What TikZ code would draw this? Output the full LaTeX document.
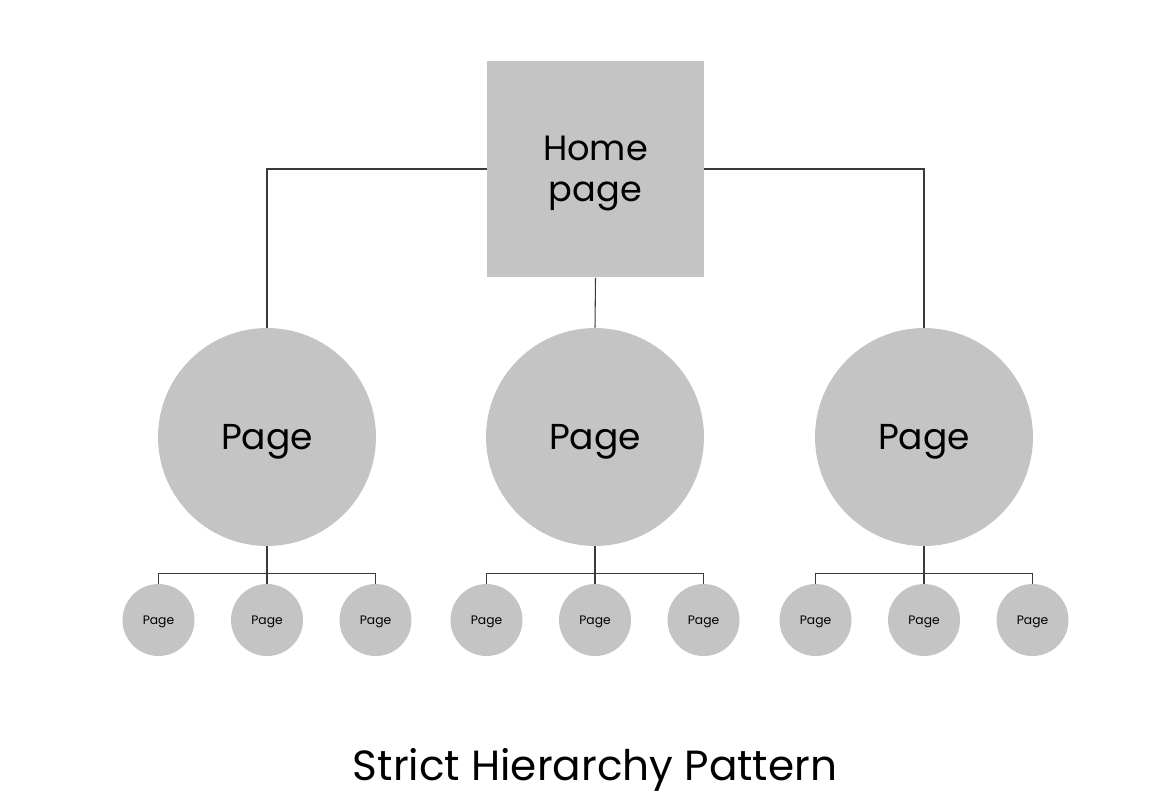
\documentclass[tikz,border=0pt]{standalone}
\usepackage{fontspec}
\setmainfont{Poppins}
\definecolor{pagegray}{HTML}{C4C4C4}
\definecolor{linkgray}{HTML}{3A3A3A}

\begin{document}
\begin{tikzpicture}[x=0.02cm, y=-0.02cm,
  homebox/.style={fill=pagegray, minimum size=4.34cm, inner sep=0pt,
    align=center, text depth=0pt, font=\fontsize{20}{21.6}\selectfont},
  bigpage/.style={circle, fill=pagegray, minimum size=4.36cm, inner sep=0pt,
    text depth=0pt, font=\fontsize{20.5}{24}\selectfont},
  smallpage/.style={circle, fill=pagegray, minimum size=1.44cm, inner sep=0pt,
    text depth=0pt, font=\fontsize{7}{9}\selectfont},
  toplink/.style={draw=linkgray, line width=0.6pt},
  sublink/.style={draw=linkgray, line width=0.9pt}]
\useasboundingbox (0,0) rectangle (1159,796);

% home page
\node[homebox] (home) at (595.5,169) {Home\\[1.5pt]page};

% first level
\node[bigpage] (p1) at (267,437) {Page};
\node[bigpage] (p2) at (595,437) {Page};
\node[bigpage] (p3) at (924,437) {Page};

\draw[toplink] (home.west) -| (p1.north);
\draw[toplink] (home.south) -- (p2.north);
\draw[toplink] (home.east) -| (p3.north);

% second level
\foreach \p/\x in {p1/267, p2/595, p3/924} {
  \node[smallpage] (\p a) at (\x-108.5,620) {Page};
  \node[smallpage] (\p b) at (\x,620) {Page};
  \node[smallpage] (\p c) at (\x+108.5,620) {Page};
  \draw[sublink] (\p a.north) -- ++(0,-10) -| (\p c.north);
  \draw[sublink] (\p.south) -- (\p b.north);
}

% caption
\node[text depth=0pt, font=\fontsize{24}{30}\selectfont] (title) at (595,764) {Strict Hierarchy Pattern};
\end{tikzpicture}
\end{document}
